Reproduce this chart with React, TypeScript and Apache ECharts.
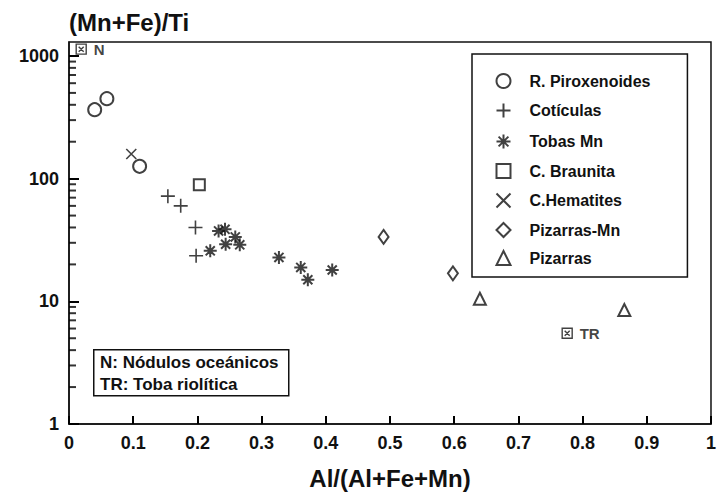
import React, { useEffect, useRef } from "react";
import * as echarts from "echarts";

// ---- data ----
const piroxX = [0.04, 0.059, 0.11];
const piroxY = [365, 449, 126];
const coticX = [0.154, 0.174, 0.197, 0.198];
const coticY = [72, 60, 40, 23.5];
const tobasX = [0.22, 0.233, 0.243, 0.244, 0.259, 0.266, 0.327, 0.361, 0.372, 0.41];
const tobasY = [25.8, 37.5, 38.6, 29.2, 33.5, 28.9, 22.8, 18.9, 15, 18];
const braunX = [0.203];
const braunY = [89];
const hemX = [0.097];
const hemY = [159];
const pizMnX = [0.49, 0.598];
const pizMnY = [33.5, 16.9];
const pizX = [0.64, 0.865];
const pizY = [10.5, 8.5];
const refNames = ["N", "TR"];
const refX = [0.019, 0.776];
const refY = [1137, 5.5];
const minorTickValues = [2, 3, 4, 5, 6, 7, 8, 9, 20, 30, 40, 50, 60, 70, 80, 90, 200, 300, 400, 500, 600, 700, 800, 900];
const seriesNames = ["R. Piroxenoides", "Cotículas", "Tobas Mn", "C. Braunita", "C.Hematites", "Pizarras-Mn", "Pizarras"];
const noteLines = ["N: Nódulos oceánicos", "TR: Toba riolítica"];

const PLUS = "path://M5 0L5 10M0 5L10 5";
const ASTER = "path://M5 0L5 10M0 5L10 5M1.5 1.5L8.5 8.5M8.5 1.5L1.5 8.5M5 3.5L5 6.5";
const CROSS = "path://M0 0L10 10M10 0L0 10";
const BOXX = "path://M0 0L10 0L10 10L0 10ZM2.5 2.5L7.5 7.5M7.5 2.5L2.5 7.5";

const FONT = "'Liberation Sans', Arial, sans-serif";
const INK = "#111";
const zip = (xs: number[], ys: number[]) => xs.map((x, i) => [x, ys[i]]);

export default function App() {
  const ref = useRef<HTMLDivElement>(null);
  useEffect(() => {
    const chart = echarts.init(ref.current!, null, { renderer: "svg" });
    const sc = (name: string, data: number[][], symbol: string, size: number | number[], bw = 1.6) => {
      const isPath = symbol.startsWith("path://");
      return {
        type: "scatter",
        name,
        data,
        symbol,
        symbolSize: size,
        itemStyle: isPath
          ? { color: "none", borderColor: INK, borderWidth: bw }
          : { color: INK, borderColor: INK, borderWidth: bw },
        z: 3,
      };
    };
    chart.setOption({
      animation: false,
      grid: {
        left: 69,
        right: 5,
        top: 42,
        bottom: 67,
        show: true,
        borderColor: INK,
        borderWidth: 1.5,
        containLabel: false,
      },
      xAxis: {
        type: "value",
        min: 0,
        max: 1,
        interval: 0.1,
        name: "Al/(Al+Fe+Mn)",
        nameLocation: "middle",
        nameGap: 42,
        nameTextStyle: { fontFamily: FONT, fontSize: 24, fontWeight: "bold", color: INK },
        axisLine: { show: true, lineStyle: { color: INK, width: 1.5 } },
        axisTick: { show: true, inside: true, length: 8, lineStyle: { color: "#000", width: 2 } },
        axisLabel: {
          fontFamily: FONT,
          fontSize: 18,
          fontWeight: "bold",
          color: INK,
          margin: 10,
          formatter: (v: number) => (v === 0 ? "0" : v === 1 ? "1" : String(+v.toFixed(1))),
        },
        splitLine: { show: false },
      },
      yAxis: {
        type: "log",
        logBase: 10,
        min: 1,
        max: 1300,
        name: "(Mn+Fe)/Ti",
        nameLocation: "end",
        nameGap: 8,
        nameTextStyle: { fontFamily: FONT, fontSize: 24, fontWeight: "bold", color: INK, align: "left" },
        axisLine: { show: true, lineStyle: { color: INK, width: 1.5 } },
        axisTick: { show: true, inside: true, length: 10, lineStyle: { color: "#000", width: 2 } },
        axisLabel: {
          fontFamily: FONT,
          fontSize: 18,
          fontWeight: "bold",
          color: INK,
          margin: 10,
          showMaxLabel: false,
          formatter: (v: number) => ([1, 10, 100, 1000].includes(Math.round(v)) ? String(Math.round(v)) : ""),
        },
        splitLine: { show: false },
      },
      legend: {
        data: seriesNames,
        orient: "vertical",
        left: 472,
        top: 54,
        padding: [19, 37, 11, 22],
        itemWidth: 14,
        itemHeight: 14,
        itemGap: 12,
        selectedMode: false,
        borderColor: INK,
        borderWidth: 1.5,
        textStyle: { fontFamily: FONT, fontSize: 16, fontWeight: "bold", color: INK, padding: [0, 0, 0, 14] },
      },
      graphic: [
        {
          type: "rect",
          left: 93,
          top: 349,
          shape: { width: 195, height: 46 },
          style: { fill: "#fff", stroke: INK, lineWidth: 1.5 },
          z: 10,
        },
        {
          type: "text",
          left: 100,
          top: 354,
          style: { text: noteLines[0], font: `bold 17px ${FONT}`, fill: INK },
          z: 11,
        },
        {
          type: "text",
          left: 100,
          top: 376,
          style: { text: noteLines[1], font: `bold 17px ${FONT}`, fill: INK },
          z: 11,
        },
      ],
      series: [
        {
          type: "scatter",
          name: "minorTicks",
          data: minorTickValues.map((v) => [0, v]),
          symbol: "rect",
          symbolSize: [7, 2],
          symbolOffset: [3.5, 0],
          itemStyle: { color: "#000" },
          z: 4,
        },
        sc(seriesNames[0], zip(piroxX, piroxY), "emptyCircle", 13),
        sc(seriesNames[1], zip(coticX, coticY), PLUS, 14),
        sc(seriesNames[2], zip(tobasX, tobasY), ASTER, 13, 2),
        sc(seriesNames[3], zip(braunX, braunY), "emptyRect", 11),
        sc(seriesNames[4], zip(hemX, hemY), CROSS, 10),
        sc(seriesNames[5], zip(pizMnX, pizMnY), "emptyDiamond", [10, 14]),
        sc(seriesNames[6], zip(pizX, pizY), "emptyTriangle", 12),
        {
          type: "scatter",
          name: "ref",
          data: refNames.map((n, i) => ({ name: n, value: [refX[i], refY[i]] })),
          symbol: BOXX,
          symbolSize: 10,
          itemStyle: { color: "none", borderColor: INK, borderWidth: 1.4 },
          label: {
            show: true,
            position: "right",
            distance: 5,
            formatter: (p: any) => p.name,
            fontFamily: FONT,
            fontSize: 15,
            fontWeight: "bold",
            color: INK,
          },
        },
      ],
    });
    return () => chart.dispose();
  }, []);
  return <div ref={ref} style={{ width: 719, height: 495, position: "absolute", left: 0, top: 0 }} />;
}
